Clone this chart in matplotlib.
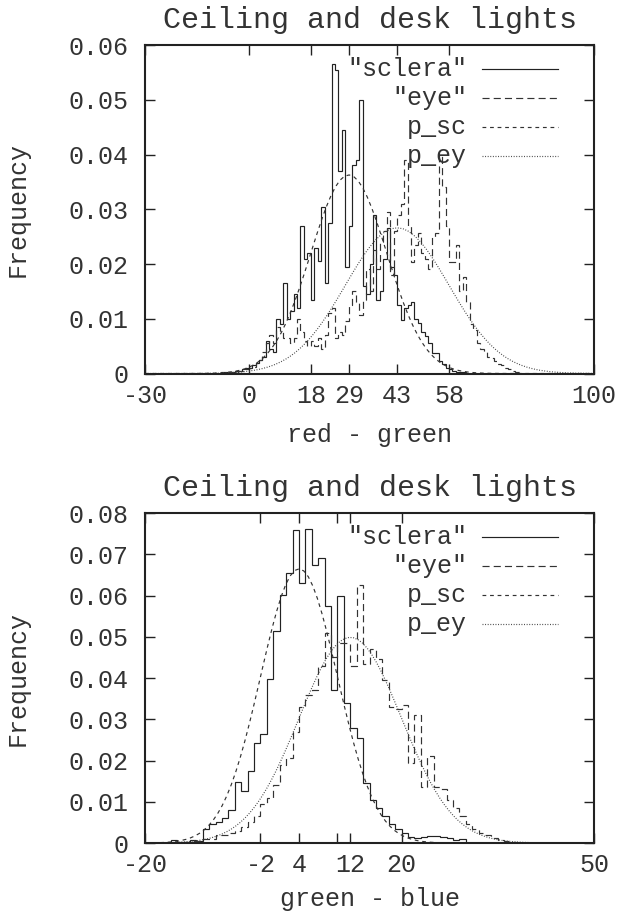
import matplotlib
matplotlib.use('Agg')
import matplotlib.pyplot as plt
import numpy as np

plt.rcParams['font.family'] = ['Liberation Mono', 'DejaVu Sans Mono']
plt.rcParams['font.size'] = 18

TITLE = 'Ceiling and desk lights'
LEGEND_LABELS = ['"sclera"', '"eye"', 'p_sc', 'p_ey']

# red - green, histograms with 1 unit bins (first bin left edge given)
RG_SCLERA_START = -8
RG_SCLERA = [0.0002, 0.0002, 0.0003, 0.0003, 0.0005, 0.0005, 0.0008, 0.001,
             0.001, 0.0015, 0.002, 0.0025, 0.003, 0.006, 0.0045, 0.004,
             0.010, 0.009, 0.0165, 0.010, 0.0115, 0.0145, 0.012, 0.027,
             0.021, 0.022, 0.0135, 0.023, 0.0205, 0.0305, 0.0165, 0.0275,
             0.0565, 0.0555, 0.037, 0.0445, 0.0195, 0.027, 0.038, 0.039,
             0.050, 0.016, 0.0145, 0.020, 0.029, 0.0135, 0.015, 0.021,
             0.0265, 0.0195, 0.018, 0.0125, 0.0098, 0.012, 0.0125, 0.013,
             0.010, 0.0092, 0.0075, 0.0068, 0.0055, 0.0037, 0.0037, 0.0022,
             0.0018, 0.001, 0.0008, 0.0005, 0.0003, 0.0002, 0.0002]
RG_EYE_START = -6
RG_EYE = [0.0002, 0.0003, 0.0003, 0.0005, 0.0005, 0.0008,
          0.001, 0.0012, 0.002, 0.0025, 0.004, 0.0055, 0.007, 0.0055,
          0.0085, 0.0075, 0.0065, 0.0065, 0.0055, 0.0065, 0.010, 0.0075,
          0.006, 0.005, 0.006, 0.005, 0.0065, 0.0045, 0.007, 0.011,
          0.012, 0.0065, 0.0075, 0.007, 0.0095, 0.0125, 0.015, 0.013,
          0.0107, 0.0135, 0.019, 0.015, 0.0225, 0.019, 0.024, 0.026,
          0.0295, 0.018, 0.026, 0.029, 0.031, 0.039, 0.027, 0.0204,
          0.0234, 0.0256, 0.022, 0.021, 0.019, 0.025, 0.0256, 0.040,
          0.034, 0.027, 0.0204, 0.0204, 0.0234, 0.015, 0.0177, 0.013,
          0.009, 0.008, 0.0055, 0.0045, 0.004, 0.003, 0.0028, 0.0022,
          0.0018, 0.0015, 0.001, 0.0008, 0.0005, 0.0003, 0.0002]
RG_FIT_SC = (29, 11)   # mean, sigma of p_sc
RG_FIT_EY = (43, 15)   # mean, sigma of p_ey
RG_XLIM = (-30, 100)
RG_XTICKS = [-30, 0, 18, 29, 43, 58, 100]
RG_XTICKLABELS = ['-30', '0', '18', '29', '43', '58', '100']
RG_YTICKS = [0, 0.01, 0.02, 0.03, 0.04, 0.05, 0.06]
RG_YTICKLABELS = ['0', '0.01', '0.02', '0.03', '0.04', '0.05', '0.06']

# green - blue
GB_SCLERA_START = -16
GB_SCLERA = [0.0008, 0.0002, 0.0003, 0.0008, 0.0005, 0.0035, 0.0045, 0.0052,
             0.006, 0.008, 0.0148, 0.0125, 0.0175, 0.0242, 0.0265, 0.0397,
             0.0515, 0.0601, 0.0655, 0.076, 0.063, 0.0762, 0.0675, 0.069,
             0.0575, 0.037, 0.060, 0.034, 0.028, 0.0255, 0.0145, 0.0105,
             0.0085, 0.0065, 0.0045, 0.0035, 0.0025, 0.0015, 0.0012, 0.0015,
             0.0018, 0.0018, 0.0015, 0.0012, 0.0008, 0.001]
GB_EYE_START = -14
GB_EYE = [0.0003, 0.0005, 0.0005, 0.001, 0.001, 0.002, 0.002, 0.0025,
          0.003, 0.004, 0.005, 0.0065, 0.0095, 0.011, 0.014, 0.019,
          0.0205, 0.027, 0.033, 0.036, 0.037, 0.043, 0.051, 0.045,
          0.0485, 0.0485, 0.043, 0.0625, 0.0435, 0.047, 0.0445, 0.0395,
          0.033, 0.0325, 0.0335, 0.0195, 0.031, 0.0135, 0.021, 0.0135,
          0.013, 0.0105, 0.0085, 0.0065, 0.0045, 0.0035, 0.0025, 0.002,
          0.0013, 0.0008, 0.0005, 0.0003]
GB_FIT_SC = (4, 6)
GB_FIT_EY = (12, 8)
GB_XLIM = (-20, 50)
GB_XTICKS = [-20, -2, 4, 10, 12, 20, 50]
GB_XTICKLABELS = ['-20', '-2', '4', '', '12', '20', '50']
GB_YTICKS = [0, 0.01, 0.02, 0.03, 0.04, 0.05, 0.06, 0.07, 0.08]
GB_YTICKLABELS = ['0', '0.01', '0.02', '0.03', '0.04', '0.05', '0.06',
                  '0.07', '0.08']

INK = '#222222'
TXT = '#333333'
STYLES = [dict(color=INK, lw=0.85, ls='-'),
          dict(color='#333333', lw=0.85, ls=(0, (6, 3.5))),
          dict(color='#333333', lw=0.85, ls=(0, (3.2, 3.2))),
          dict(color='#444444', lw=0.85, ls=(0, (0.8, 1.4)))]


def gauss(x, mu, sigma):
	return np.exp(-0.5*((x - mu)/sigma)**2)/(sigma*np.sqrt(2*np.pi))


def draw_panel(ax, sc_start, sc, ey_start, ey, fit_sc, fit_ey, xlim,
			   xticks, xticklabels, yticks, yticklabels, xlabel, xlabel_y):
	sc_edges = np.arange(len(sc) + 1) + sc_start
	ey_edges = np.arange(len(ey) + 1) + ey_start
	ax.stairs(sc, sc_edges, **STYLES[0])
	ax.stairs(ey, ey_edges, **STYLES[1])

	# the fitted normal densities, sampled like gnuplot does (100 samples)
	x = np.linspace(xlim[0], xlim[1], 100)
	ax.plot(x, gauss(x, *fit_sc), **STYLES[2])
	ax.plot(x, gauss(x, *fit_ey), **STYLES[3])

	ax.set_xlim(*xlim)
	ax.set_ylim(yticks[0], yticks[-1])
	ax.set_xticks(xticks)
	ax.set_xticklabels(xticklabels)
	ax.set_yticks(yticks)
	ax.set_yticklabels(yticklabels)
	ax.tick_params(direction='in', length=7, width=1, top=True, right=True,
				   color=INK, labelcolor=TXT)
	ax.tick_params(axis='x', pad=7.5)
	ax.tick_params(axis='y', pad=12)
	for sp in ax.spines.values():
		sp.set_linewidth(1.5)
		sp.set_color(INK)

	ax.set_title(TITLE, pad=12.5, color=TXT)
	ax.set_xlabel(xlabel, color=TXT)
	ax.xaxis.set_label_coords(0.5, xlabel_y)
	ax.set_ylabel('Frequency', color=TXT)
	ax.yaxis.set_label_coords(-0.256, 0.5)

	# gnuplot style key: right aligned text then the line sample
	for i, lab in enumerate(LEGEND_LABELS):
		y = 0.927 - i*0.088
		ax.text(0.717, y, lab, transform=ax.transAxes, ha='right',
				va='center', color=TXT)
		ax.plot([0.7506, 0.9198], [y, y], transform=ax.transAxes,
				**STYLES[i])


fig = plt.figure(figsize=(6.19, 9.11), dpi=100)
ax1 = fig.add_axes([0.2343, 0.5900, 0.7254, 0.3606])
ax2 = fig.add_axes([0.2343, 0.0746, 0.7254, 0.3622])

draw_panel(ax1, RG_SCLERA_START, RG_SCLERA, RG_EYE_START, RG_EYE,
		   RG_FIT_SC, RG_FIT_EY, RG_XLIM, RG_XTICKS, RG_XTICKLABELS,
		   RG_YTICKS, RG_YTICKLABELS, 'red - green', -0.150)
draw_panel(ax2, GB_SCLERA_START, GB_SCLERA, GB_EYE_START, GB_EYE,
		   GB_FIT_SC, GB_FIT_EY, GB_XLIM, GB_XTICKS, GB_XTICKLABELS,
		   GB_YTICKS, GB_YTICKLABELS, 'green - blue', -0.132)

fig.savefig('out.png', dpi=100)
